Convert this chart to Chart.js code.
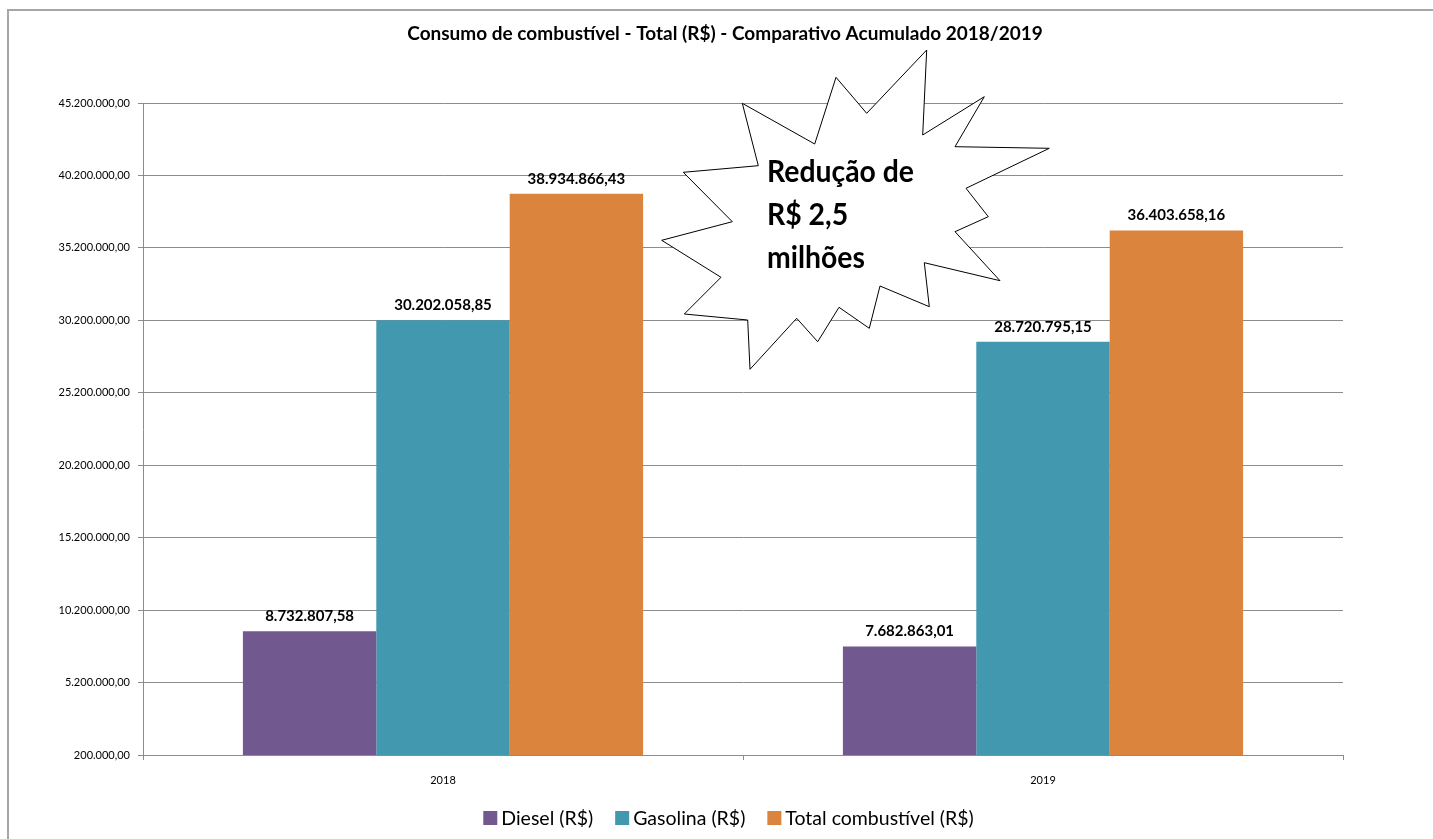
<!DOCTYPE html>
<html>
<head>
<meta charset="utf-8">
<script src="https://cdn.jsdelivr.net/npm/chart.js@4.4.1/dist/chart.umd.min.js"></script>
<style>
  html, body { margin: 0; padding: 0; background: #fff; }
  #wrap { position: relative; width: 1433px; height: 839px; }
</style>
</head>
<body>
<div id="wrap"><canvas id="c" width="1433" height="839"></canvas></div>
<script>
const categories = ['2018', '2019'];
const seriesNames = ['Diesel (R$)', 'Gasolina (R$)', 'Total combustível (R$)'];
const diesel = [8732807.58, 7682863.01];
const gasolina = [30202058.85, 28720795.15];
const total = [38934866.43, 36403658.16];
const seriesColors = ['#71588F', '#4198AF', '#DB843D'];
const yMin = 200000, yMax = 45200000, yStep = 5000000;
const titleText = 'Consumo de combustível - Total (R$) - Comparativo Acumulado 2018/2019';
const calloutLines = ['Redução de', 'R$ 2,5', 'milhões'];

const FONT = "Lato, 'Open Sans', sans-serif";

function fmtBR(v) {
  const neg = v < 0; v = Math.abs(v);
  let s = v.toFixed(2);
  let [i, d] = s.split('.');
  i = i.replace(/\B(?=(\d{3})+(?!\d))/g, '.');
  return (neg ? '-' : '') + i + ',' + d;
}

const framePlugin = {
  id: 'frame',
  beforeDraw(chart) {
    const ctx = chart.ctx;
    ctx.save();
    ctx.fillStyle = '#fff';
    ctx.fillRect(0, 0, chart.width, chart.height);
    ctx.strokeStyle = '#a6a6a6';
    ctx.lineWidth = 2;
    ctx.beginPath();
    ctx.moveTo(8, chart.height + 2);
    ctx.lineTo(8, 10);
    ctx.lineTo(chart.width + 2, 10);
    ctx.stroke();
    // title
    ctx.fillStyle = '#000';
    ctx.font = 'bold 19px ' + FONT;
    ctx.textAlign = 'center';
    ctx.textBaseline = 'middle';
    ctx.fillText(titleText, 725, 34);
    ctx.restore();
  }
};

const labelPlugin = {
  id: 'barLabels',
  afterDatasetsDraw(chart) {
    const ctx = chart.ctx;
    ctx.save();
    ctx.font = 'bold 15px ' + FONT;
    ctx.fillStyle = '#000';
    ctx.textAlign = 'center';
    ctx.textBaseline = 'middle';
    chart.data.datasets.forEach((ds, di) => {
      const meta = chart.getDatasetMeta(di);
      meta.data.forEach((bar, i) => {
        ctx.fillText(fmtBR(ds.data[i]), bar.x, bar.y - 15);
      });
    });
    ctx.restore();
  }
};

// Bottom legend drawn from the datasets
const legendPlugin = {
  id: 'bottomLegend',
  afterDraw(chart) {
    const ctx = chart.ctx;
    const box = 14, gapText = 4, gapItem = 22, cy = 818;
    ctx.save();
    ctx.font = '19.5px ' + FONT;
    ctx.textBaseline = 'middle';
    ctx.textAlign = 'left';
    const items = chart.data.datasets.map(ds => ({
      text: ds.label, color: ds.backgroundColor, w: ctx.measureText(ds.label).width
    }));
    const totalW = items.reduce((a, it) => a + box + gapText + it.w, 0) + gapItem * (items.length - 1);
    let x = chart.width / 2 + 12 - totalW / 2;
    items.forEach(it => {
      ctx.fillStyle = it.color;
      ctx.fillRect(x, cy - box / 2, box, box);
      ctx.fillStyle = '#000';
      ctx.fillText(it.text, x + box + gapText, cy + 1);
      x += box + gapText + it.w + gapItem;
    });
    ctx.restore();
  }
};

// Callout starburst (annotation shape), points in canvas pixels
const starPts = [
  [926.7,50],[922.7,135],[984.3,96.7],[955,146.7],[1049.3,148.3],[966,188.3],
  [988.3,216.7],[955,231.7],[1000,280.7],[924.3,262.7],[929.3,306.7],[880,286],
  [869.3,328.3],[839,307.3],[817.7,341.7],[796.7,318.3],[750,369.3],[747.7,320],
  [684.3,314],[721,277.3],[661.7,240.3],[732.3,221.7],[683.3,172.3],[758.3,165.7],
  [742.3,103.3],[814.7,144],[836,77.3],[866.7,113.3]
];
const calloutPlugin = {
  id: 'callout',
  afterDraw(chart) {
    const ctx = chart.ctx;
    ctx.save();
    ctx.beginPath();
    starPts.forEach((p, i) => i ? ctx.lineTo(p[0], p[1]) : ctx.moveTo(p[0], p[1]));
    ctx.closePath();
    ctx.fillStyle = '#fff';
    ctx.fill();
    ctx.strokeStyle = '#000';
    ctx.lineWidth = 1;
    ctx.stroke();
    ctx.fillStyle = '#000';
    ctx.font = 'bold 30px ' + FONT;
    ctx.textAlign = 'left';
    ctx.textBaseline = 'middle';
    calloutLines.forEach((t, i) => {
      ctx.save();
      ctx.translate(767, 172 + i * 43);
      ctx.scale(0.945, 1);
      ctx.fillText(t, 0, 0);
      ctx.restore();
    });
    ctx.restore();
  }
};

const datasets = [diesel, gasolina, total].map((d, i) => ({
  label: seriesNames[i],
  data: d,
  backgroundColor: seriesColors[i],
  borderWidth: 0,
  categoryPercentage: 0.667,
  barPercentage: 1.0
}));

new Chart(document.getElementById('c'), {
  type: 'bar',
  data: { labels: categories, datasets },
  options: {
    responsive: false,
    animation: false,
    layout: { padding: { left: 0, right: 90, top: 103, bottom: 0 } },
    plugins: {
      title: { display: false },
      legend: { display: false },
      tooltip: { enabled: false }
    },
    scales: {
      x: {
        grid: { drawOnChartArea: false, offset: true, tickLength: 5, color: '#8c8c8c' },
        border: { color: '#8c8c8c' },
        ticks: { color: '#000', font: { family: FONT, size: 11 }, padding: 14 },
        afterFit(s) { s.height = 84; }
      },
      y: {
        min: yMin, max: yMax,
        grid: { color: '#8c8c8c', tickLength: 5 },
        border: { color: '#8c8c8c' },
        ticks: {
          stepSize: yStep, color: '#000',
          font: { family: FONT, size: 11 }, padding: 8,
          callback: v => fmtBR(v)
        },
        afterFit(s) { s.width = 143; }
      }
    }
  },
  plugins: [framePlugin, labelPlugin, legendPlugin, calloutPlugin]
});
</script>
</body>
</html>
